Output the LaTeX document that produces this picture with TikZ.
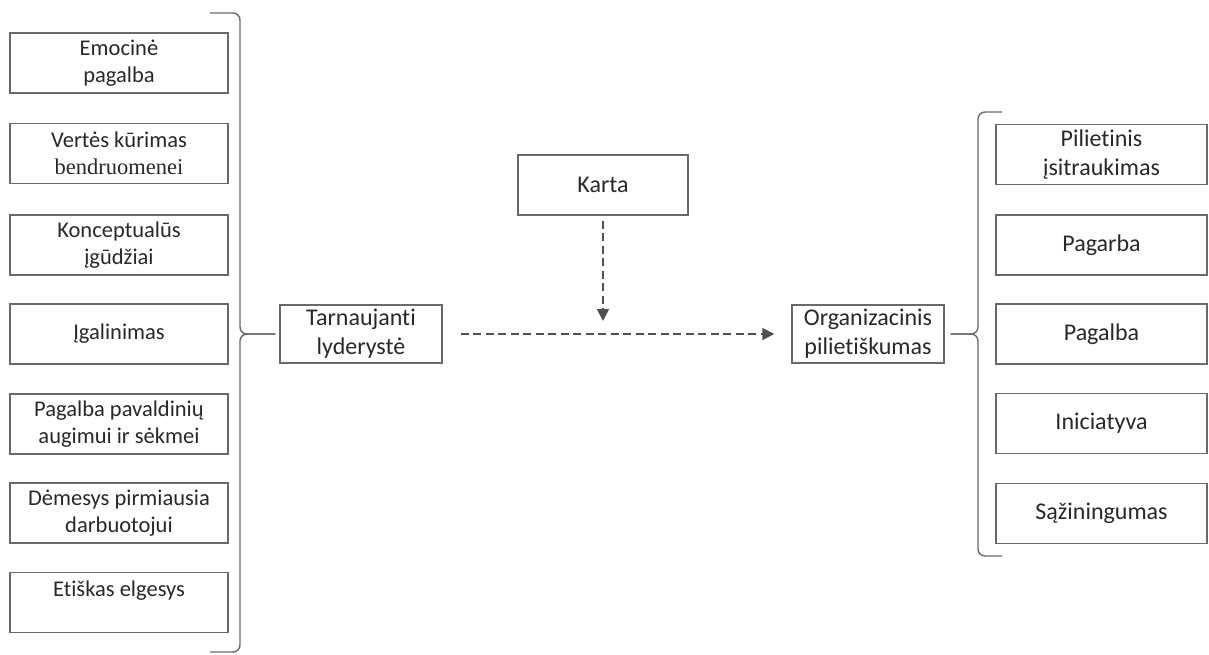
\documentclass[tikz,border=0pt]{standalone}
\usepackage{fontspec}
\setmainfont[Ligatures=NoCommon]{Carlito}
\newfontfamily\serifword{Liberation Serif}
\usetikzlibrary{arrows.meta}
\definecolor{boxline}{RGB}{105,105,105}
\definecolor{txt}{RGB}{40,40,40}
\definecolor{dashc}{RGB}{80,80,80}
\tikzset{
  leftbox/.style={draw=boxline, line width=1.4pt, minimum width=218pt, minimum height=60pt, inner sep=0pt, align=center, text=txt, font=\fontsize{22.5}{27.5}\selectfont},
  midbox/.style={draw=boxline, line width=1.4pt, inner sep=0pt, align=center, text=txt, font=\fontsize{24}{29}\selectfont},
  rightbox/.style={midbox, minimum width=211pt, minimum height=60pt},
  bracel/.style={draw=boxline, line width=1.4pt, rounded corners=7pt},
  dasharrow/.style={draw=dashc, line width=1.8pt, dash pattern=on 8pt off 4.5pt, -{Triangle[length=12pt,width=12pt]}}
}
\begin{document}
\begin{tikzpicture}[x=1pt,y=-1pt]
\useasboundingbox (0,0) rectangle (1209,654);
% left column
\node[leftbox] (l1) at (119,63) {Emocinė\\pagalba};
\node[leftbox] (l2) at (119,153.5) {Vertės kūrimas\\{\serifword bendruomenei}};
\node[leftbox] (l3) at (119,245) {Konceptualūs\\įgūdžiai};
\node[leftbox] (l4) at (119,334) {Įgalinimas};
\node[leftbox] (l5) at (119,424) {Pagalba pavaldinių\\augimui ir sėkmei};
\node[leftbox] (l6) at (119,513) {Dėmesys pirmiausia\\darbuotojui};
\node[leftbox] (l7) at (119,602.5) {Etiškas elgesys\\\mbox{}};
% middle
\node[midbox, minimum width=162pt, minimum height=58pt] (tl) at (361,334) {Tarnaujanti\\lyderystė};
\node[midbox, minimum width=170pt, minimum height=60pt] (ka) at (603,185) {Karta};
\node[midbox, minimum width=152pt, minimum height=58pt] (oc) at (868,334) {Organizacinis\\pilietiškumas};
\coordinate (mid) at (603,321);
% right column
\node[rightbox] (r1) at (1101.5,154.5) {Pilietinis\\įsitraukimas};
\node[rightbox] (r2) at (1101.5,245) {Pagarba};
\node[rightbox] (r3) at (1101.5,334) {Pagalba};
\node[rightbox] (r4) at (1101.5,423.5) {Iniciatyva};
\node[rightbox] (r5) at (1101.5,513.5) {Sąžiningumas};
% braces
\draw[bracel, shorten >=4pt] (210,13) -- (240,13) -- (240,334) -- (tl.west);
\draw[bracel, shorten >=4pt] (210,652) -- (240,652) -- (240,334) -- (tl.west);
\draw[bracel, shorten >=6pt] (1002,112) -- (978,112) -- (978,334) -- (oc.east);
\draw[bracel, shorten >=6pt] (1002,556) -- (978,556) -- (978,334) -- (oc.east);
% arrows
\draw[dasharrow, shorten <=5pt] (ka.south) -- (mid);
\draw[dasharrow, shorten <=18pt, shorten >=17pt] (tl.east) -- (oc.west);
\end{tikzpicture}
\end{document}
